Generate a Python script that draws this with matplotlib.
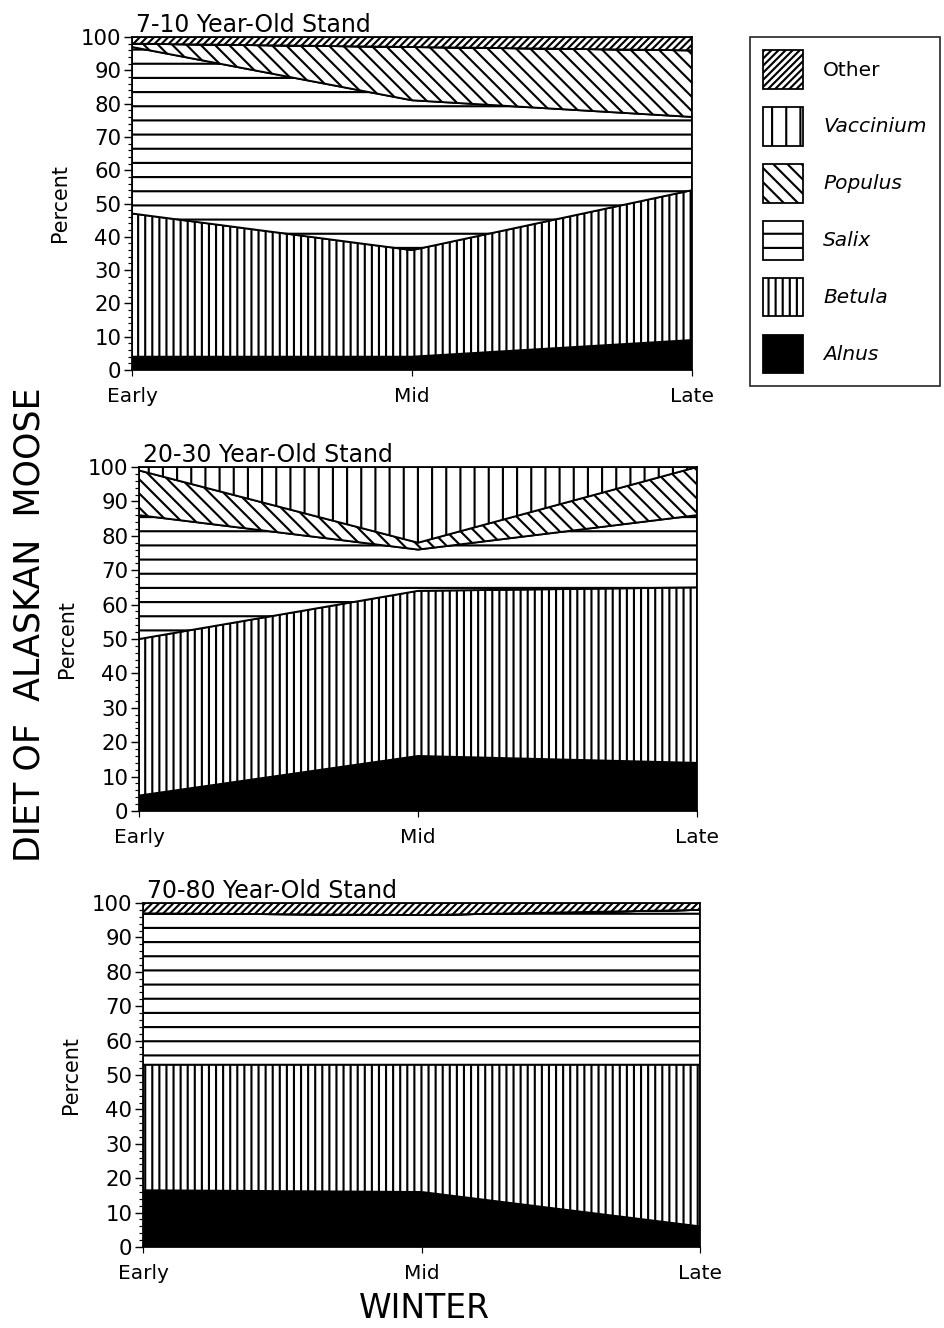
import numpy as np
import matplotlib
matplotlib.use("Agg")
import matplotlib.pyplot as plt
from matplotlib.patches import Patch
from matplotlib.ticker import MultipleLocator

plt.rcParams['font.family'] = ['DejaVu Sans']
plt.rcParams['hatch.linewidth'] = 1.8
plt.rcParams['hatch.color'] = 'black'

seasons = ['Early', 'Mid', 'Late']
species = ['Alnus', 'Betula', 'Salix', 'Populus', 'Vaccinium', 'Other']
hatches = ['', '||', '-', '\\\\', '|', '////']

# percent of diet, per stand age, per species (Early, Mid, Late)
stand_7_10 = {
    'Alnus':     [4, 4, 9],
    'Betula':    [43, 32, 45],
    'Salix':     [50, 45, 22],
    'Populus':   [1, 16, 20],
    'Vaccinium': [0, 0, 0],
    'Other':     [2, 3, 4],
}
stand_20_30 = {
    'Alnus':     [4.5, 16, 14],
    'Betula':    [45.5, 48, 51],
    'Salix':     [36, 12, 21],
    'Populus':   [13, 2, 14],
    'Vaccinium': [1, 22, 0],
    'Other':     [0, 0, 0],
}
stand_70_80 = {
    'Alnus':     [16.5, 16, 6],
    'Betula':    [36.5, 37, 47],
    'Salix':     [44, 43.5, 45],
    'Populus':   [0, 0, 0],
    'Vaccinium': [0, 0, 0],
    'Other':     [3, 3.5, 2],
}

panels = [
    ('7-10 Year-Old Stand', stand_7_10, [132, 37, 692, 370]),
    ('20-30 Year-Old Stand', stand_20_30, [139, 467, 697, 811]),
    ('70-80 Year-Old Stand', stand_70_80, [143, 903, 700, 1247]),
]

W, H, DPI = 944, 1328, 85
fig = plt.figure(figsize=(W / DPI, H / DPI), dpi=DPI)

x = np.arange(len(seasons))

for title, data, (x0, y0, x1, y1) in panels:
    ax = fig.add_axes([x0 / W, 1 - y1 / H, (x1 - x0) / W, (y1 - y0) / H])
    base = np.zeros(len(seasons))
    for name, hatch in zip(species, hatches):
        vals = np.array(data[name], dtype=float)
        top = base + vals
        face = 'black' if name == 'Alnus' else 'white'
        ax.fill_between(x, base, top, facecolor=face, edgecolor='black',
                        hatch=hatch, linewidth=1.6)
        base = top
    ax.set_xlim(0, 2)
    ax.set_ylim(0, 100)
    ax.set_xticks(x)
    ax.set_xticklabels(seasons, fontsize=17)
    ax.set_yticks(np.arange(0, 101, 10))
    ax.yaxis.set_minor_locator(MultipleLocator(2))
    ax.tick_params(axis='y', which='major', labelsize=18, length=7, width=1.2, pad=2)
    ax.tick_params(axis='y', which='minor', length=3, width=1)
    ax.tick_params(axis='x', length=5, width=1, pad=9)
    for s in ax.spines.values():
        s.set_linewidth(1.5)
    ax.set_ylabel('Percent', fontsize=17.5, labelpad=9)
    ax.set_title(title, loc='left', fontsize=20, pad=4, x=0.008)

fig.text(30 / W, 1 - 625 / H, 'DIET OF  ALASKAN  MOOSE', rotation=90,
         ha='center', va='center', fontsize=29.5)
fig.text(424 / W, 1 - 1308 / H, 'WINTER', ha='center', va='center', fontsize=28)

handles = []
for name, hatch in zip(species[::-1], hatches[::-1]):
    face = 'black' if name == 'Alnus' else 'white'
    handles.append(Patch(facecolor=face, edgecolor='black', hatch=hatch,
                         linewidth=1.5, label=name))
leg = fig.legend(handles=handles, loc='upper left',
                 bbox_to_anchor=(750 / W, 1 - 37 / H), borderaxespad=0,
                 frameon=True, fancybox=False, edgecolor='black', fontsize=17,
                 handlelength=2.0, handleheight=2.6, labelspacing=0.9,
                 handletextpad=1.0, borderpad=0.65)
leg.get_frame().set_linewidth(1.5)
for t in leg.get_texts():
    if t.get_text() != 'Other':
        t.set_style('italic')

fig.savefig('out.png', dpi=DPI)
